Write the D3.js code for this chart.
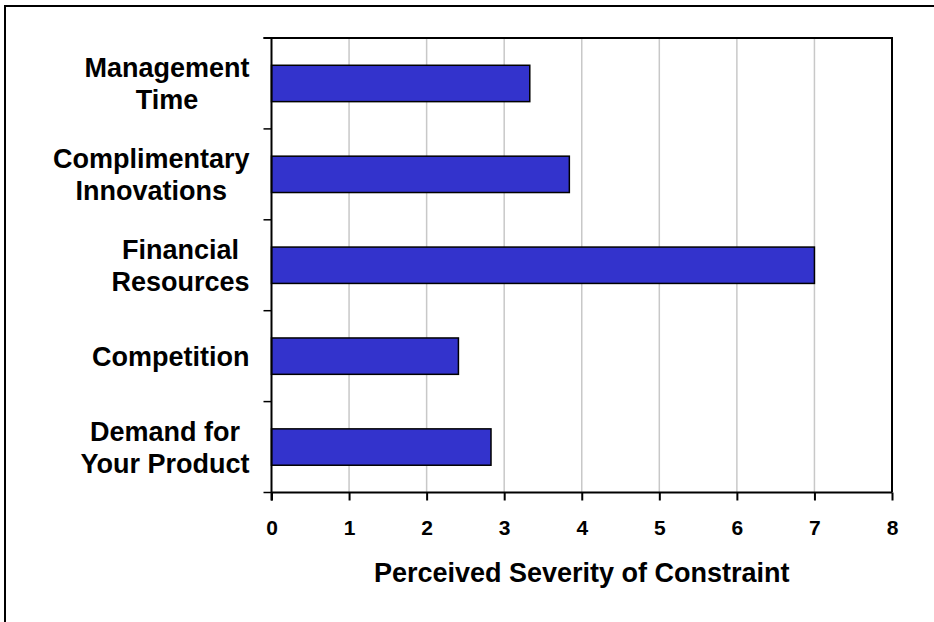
<!DOCTYPE html>
<html>
<head>
<meta charset="utf-8">
<script src="https://cdn.jsdelivr.net/npm/d3@7"></script>
<style>
  body { margin: 0; background: #fff; }
  text { font-family: "Liberation Sans", Arial, sans-serif; font-weight: bold; fill: #000; }
</style>
</head>
<body>
<div id="chart"></div>
<script>
// chart data
var categories = ["Management Time", "Complimentary Innovations", "Financial Resources", "Competition", "Demand for Your Product"];
var labelLines = [["Management", "Time"], ["Complimentary", "Innovations"], ["Financial", "Resources"], ["Competition"], ["Demand for", "Your Product"]];
var values = [3.33, 3.84, 7.0, 2.41, 2.83];
var xTicks = [0, 1, 2, 3, 4, 5, 6, 7, 8];
var xTitle = "Perceived Severity of Constraint";

var W = 934, H = 622;
var plot = {left: 271.5, top: 38, right: 892, bottom: 492.5};

var svg = d3.select("#chart").append("svg")
    .attr("width", W)
    .attr("height", H);

// outer frame (only top and left edges are visible)
svg.append("path")
    .attr("d", "M5,623 V6 H935")
    .attr("fill", "none")
    .attr("stroke", "#000")
    .attr("stroke-width", 2);

var x = d3.scaleLinear()
    .domain([0, 8])
    .range([plot.left, plot.right]);

var y = d3.scaleBand()
    .domain(categories)
    .range([plot.top, plot.bottom])
    .paddingInner(0.6)
    .paddingOuter(0.3);

// vertical grid lines
svg.append("g")
    .selectAll("line")
    .data(xTicks.slice(1, -1))
    .enter().append("line")
    .attr("x1", function(d) { return x(d); })
    .attr("x2", function(d) { return x(d); })
    .attr("y1", plot.top)
    .attr("y2", plot.bottom)
    .attr("stroke", "#c8c8c8")
    .attr("stroke-width", 1.5);

// plot area top and right border
svg.append("path")
    .attr("d", "M" + (plot.left - 8) + "," + plot.top + " H" + plot.right + " V" + plot.bottom)
    .attr("fill", "none")
    .attr("stroke", "#000")
    .attr("stroke-width", 2);

// bars
svg.append("g")
    .selectAll("rect")
    .data(values)
    .enter().append("rect")
    .attr("x", x(0))
    .attr("y", function(d, i) { return y(categories[i]); })
    .attr("width", function(d) { return x(d) - x(0); })
    .attr("height", y.bandwidth())
    .attr("fill", "#3333cc")
    .attr("stroke", "#000")
    .attr("stroke-width", 1.5);

// x axis
var xAxis = svg.append("g")
    .attr("transform", "translate(0," + plot.bottom + ")")
    .call(d3.axisBottom(x).tickValues(xTicks).tickFormat(d3.format("d")).tickSize(8).tickPadding(20));
xAxis.select(".domain")
    .attr("stroke", "#000")
    .attr("stroke-width", 2)
    .attr("d", "M" + x(0) + ",0 H" + x(8));
xAxis.selectAll(".tick line").attr("stroke", "#000").attr("stroke-width", 2);
xAxis.selectAll(".tick text")
    .style("font-size", "21px")
    .style("font-family", "'Liberation Sans', Arial, sans-serif")
    .style("font-weight", "bold")
    .attr("fill", "#000");

// y axis line and ticks at band boundaries
svg.append("line")
    .attr("x1", plot.left).attr("x2", plot.left)
    .attr("y1", plot.top).attr("y2", plot.bottom + 8)
    .attr("stroke", "#000")
    .attr("stroke-width", 2);

var boundaries = d3.range(categories.length + 1);
svg.append("g")
    .selectAll("line")
    .data(boundaries)
    .enter().append("line")
    .attr("x1", plot.left - 8)
    .attr("x2", plot.left)
    .attr("y1", function(d) { return plot.top + d * y.step(); })
    .attr("y2", function(d) { return plot.top + d * y.step(); })
    .attr("stroke", "#000")
    .attr("stroke-width", 1.5);

// category labels: block right aligned, lines centered within the block
var lineH = 32, labelRight = 249.5;
labelLines.forEach(function(lines, i) {
    var cy = y(categories[i]) + y.bandwidth() / 2;
    var g = svg.append("g");
    var texts = lines.map(function(s, j) {
        return g.append("text")
            .attr("y", cy + (j - (lines.length - 1) / 2) * lineH)
            .attr("dy", "0.35em")
            .attr("text-anchor", "middle")
            .style("font-size", "27px")
            .text(s);
    });
    var wMax = d3.max(texts, function(t) { return t.node().getComputedTextLength(); });
    texts.forEach(function(t) { t.attr("x", labelRight - wMax / 2); });
});

// axis title
svg.append("text")
    .attr("x", (plot.left + plot.right) / 2)
    .attr("y", 582)
    .attr("text-anchor", "middle")
    .style("font-size", "27px")
    .text(xTitle);
</script>
</body>
</html>
